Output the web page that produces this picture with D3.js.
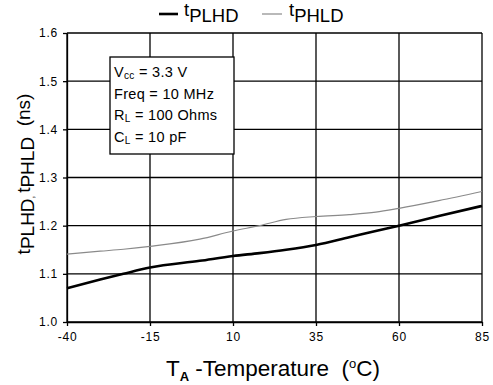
<!DOCTYPE html>
<html>
<head>
<meta charset="utf-8">
<script src="https://cdn.jsdelivr.net/npm/d3@7"></script>
<style>
  body { margin: 0; background: #fff; }
  svg { font-family: "Liberation Sans", Arial, sans-serif; }
</style>
</head>
<body>
<div id="content"></div>
<script>
var width = 493;
var height = 385;

// data
var temps = [-40, -30, -23, -15, 0, 10, 18, 26, 35, 45, 53, 60, 72, 85];
var tPLHD = [1.070, 1.088, 1.100, 1.113, 1.127, 1.137, 1.143, 1.150, 1.160, 1.176, 1.189, 1.200, 1.220, 1.241];
var tPHLD = [1.141, 1.147, 1.151, 1.157, 1.172, 1.189, 1.200, 1.213, 1.219, 1.223, 1.228, 1.236, 1.252, 1.271];
var xTicks = [-40, -15, 10, 35, 60, 85];
var yTicks = [1.0, 1.1, 1.2, 1.3, 1.4, 1.5, 1.6];
var notes = [["V", "cc", " = 3.3 V"], ["Freq = 10 MHz", "", ""], ["R", "L", " = 100 Ohms"], ["C", "L", " = 10 pF"]];

var margin = { top: 33, right: 11, bottom: 63, left: 67 };
var w = width - margin.left - margin.right;
var h = height - margin.top - margin.bottom;

var svg = d3.select("#content").append("svg").attr("width", width).attr("height", height);
var g = svg.append("g").attr("transform", `translate(${margin.left}, ${margin.top})`);

var x = d3.scaleLinear().domain([-40, 85]).range([0, w]);
var y = d3.scaleLinear().domain([1.0, 1.6]).range([h, 0]);

// grid
g.append("g").selectAll("line")
    .data(yTicks)
    .enter().append("line")
    .attr("x1", 0).attr("x2", w)
    .attr("y1", d => y(d)).attr("y2", d => y(d))
    .attr("stroke", "#000").attr("stroke-width", 1.3);

g.append("g").selectAll("line")
    .data(xTicks)
    .enter().append("line")
    .attr("x1", d => x(d)).attr("x2", d => x(d))
    .attr("y1", 0).attr("y2", h)
    .attr("stroke", "#000").attr("stroke-width", 1.3);

var xAxis = g.append("g")
    .attr("transform", `translate(0, ${h})`)
    .call(d3.axisBottom(x).tickValues(xTicks).tickFormat(d => String(d)).tickSize(4).tickSizeOuter(0).tickPadding(6));
var yAxis = g.append("g")
    .call(d3.axisLeft(y).tickValues(yTicks).tickFormat(d3.format(".1f")).tickSize(4).tickSizeOuter(0).tickPadding(5));

[xAxis, yAxis].forEach(a => {
    a.selectAll("path, line").attr("stroke", "#000").attr("stroke-width", 1.3);
    a.selectAll("text").attr("font-size", 12).attr("fill", "#000")
        .attr("letter-spacing", 0.8)
        .attr("font-family", "Liberation Sans, Arial, sans-serif");
});

// lines
var line = d3.line()
    .x(d => x(d[0]))
    .y(d => y(d[1]))
    .curve(d3.curveMonotoneX);

g.append("path")
    .datum(temps.map((t, i) => [t, tPHLD[i]]))
    .attr("d", line)
    .attr("fill", "none")
    .attr("stroke", "#8a8a8a")
    .attr("stroke-width", 1.2);

g.append("path")
    .datum(temps.map((t, i) => [t, tPLHD[i]]))
    .attr("d", line)
    .attr("fill", "none")
    .attr("stroke", "#000")
    .attr("stroke-width", 2.6);

// note box
svg.append("rect")
    .attr("x", 110).attr("y", 57)
    .attr("width", 124).attr("height", 97)
    .attr("fill", "#fff").attr("stroke", "#000").attr("stroke-width", 1.3);

notes.forEach(function (n, i) {
    var t = svg.append("text")
        .attr("x", 114).attr("y", 77 + i * 21.5)
        .attr("font-size", 14.5)
        .attr("letter-spacing", 0.3);
    t.append("tspan").text(n[0]);
    if (n[1]) {
        t.append("tspan").attr("font-size", 10).attr("dy", 2).text(n[1]);
        t.append("tspan").attr("dy", -2).text(n[2]);
    }
});

// legend
svg.append("line").attr("x1", 159).attr("x2", 178).attr("y1", 14).attr("y2", 14)
    .attr("stroke", "#000").attr("stroke-width", 2.6);
var l1 = svg.append("text").attr("x", 184).attr("y", 16).attr("font-size", 18.5);
l1.append("tspan").text("t");
l1.append("tspan").attr("dy", 5.5).text("PLHD");

svg.append("line").attr("x1", 262).attr("x2", 282).attr("y1", 14).attr("y2", 14)
    .attr("stroke", "#8a8a8a").attr("stroke-width", 1.2);
var l2 = svg.append("text").attr("x", 289).attr("y", 16).attr("font-size", 18.5);
l2.append("tspan").text("t");
l2.append("tspan").attr("dy", 5.5).text("PHLD");

// axis titles
var xt = svg.append("text")
    .attr("x", 273).attr("y", 376)
    .attr("text-anchor", "middle")
    .attr("font-size", 22.5)
    .attr("xml:space", "preserve");
xt.append("tspan").text("T");
xt.append("tspan").attr("font-size", 13).attr("font-weight", "bold").attr("dy", 5).text("A");
xt.append("tspan").attr("dy", -5).text(" -Temperature  (");
xt.append("tspan").attr("font-size", 13).attr("dy", -8).text("o");
xt.append("tspan").attr("dy", 8).text("C)");

var yt = svg.append("text")
    .attr("transform", "translate(30, 174) rotate(-90)")
    .attr("text-anchor", "middle")
    .attr("font-size", 19)
    .attr("xml:space", "preserve");
yt.append("tspan").text("t");
yt.append("tspan").attr("dy", 4).text("PLHD");
yt.append("tspan").attr("font-size", 10).text(", ");
yt.append("tspan").attr("dy", -4).text("t");
yt.append("tspan").attr("dy", 4).text("PHLD");
yt.append("tspan").attr("dy", -4).text("  (ns)");
</script>
</body>
</html>
